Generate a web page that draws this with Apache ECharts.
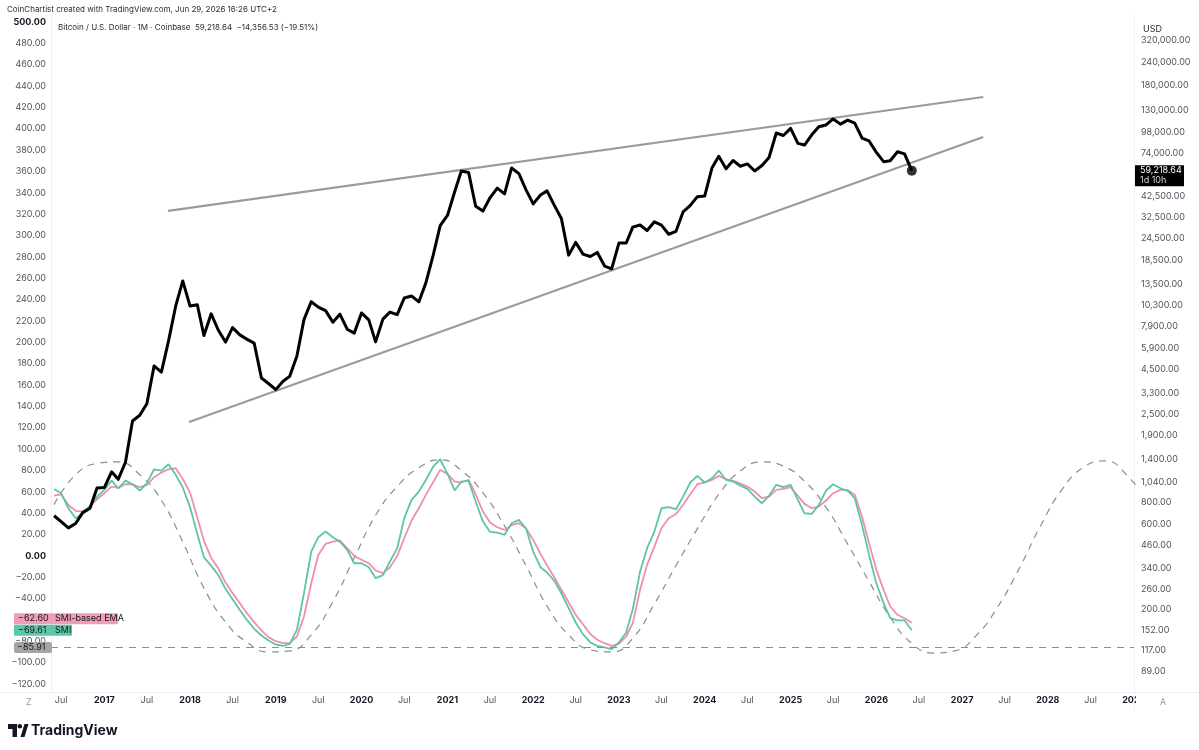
<!DOCTYPE html>
<html>
<head>
<meta charset="utf-8">
<script src="https://cdn.jsdelivr.net/npm/echarts@6/dist/echarts.min.js"></script>
<style>
  html, body { margin: 0; padding: 0; background: #fff; }
  #chart { width: 1199px; height: 750px; }
</style>
</head>
<body>
<div id="chart"></div>
<script>
// monthly closes, Jun 2016 .. Jun 2026 (BTC / USD, Coinbase)
var btcClose = [
  673, 624, 575, 609, 701, 742, 964,
  970, 1190, 1080, 1348, 2300, 2480, 2875, 4703, 4338, 6468, 10233, 14156,
  10221, 10397, 6973, 9240, 7494, 6404, 7730, 7033, 6635, 6317, 4017, 3742,
  3457, 3854, 4105, 5350, 8574, 10817, 10085, 9630, 8293, 9199, 7569, 7194,
  9350, 8544, 6424, 8629, 9454, 9138, 11351, 11655, 10785, 13805, 19713, 28990,
  33114, 45137, 58918, 57750, 37332, 35041, 41626, 47166, 43790, 61318, 57005, 46306,
  38483, 43194, 45538, 37714, 31792, 19785, 23336, 20050, 19432, 20495, 17168, 16548,
  23139, 23147, 28478, 29268, 27219, 30477, 29230, 25940, 26967, 34667, 37712, 42265,
  42582, 61198, 71333, 60636, 67491, 62678, 64620, 58970, 63329, 70216, 96449, 93429,
  102405, 84374, 82548, 94207, 104638, 107135, 115758, 108236, 114056, 109556, 90400, 87000,
  75000, 66500, 67300, 75700, 73575.17, 59218.64
];

// SMI and its EMA, same months
var smi = [
  62.7, 58.7, 44.6, 35.3, 40.0, 46.8, 55.5,
  61.8, 70.5, 63.3, 70.5, 67.1, 61.2, 68.0, 81.1, 79.9, 85.8, 76.0, 64.0,
  45.6, 20.6, -1.2, -9.4, -17.8, -30.9, -40.6, -50.6, -60.2, -68.3, -74.6, -79.3,
  -83.0, -84.3, -82.7, -69.3, -35.0, 4.0, 17.5, 22.8, 17.5, 13.4, 5.6, -6.9,
  -6.9, -10.6, -20.9, -18.1, -5.3, 7.2, 35.3, 52.4, 60.2, 71.1, 83.6, 90.5,
  76.8, 61.2, 69.6, 70.5, 50.9, 32.1, 22.5, 21.8, 19.7, 30.6, 33.7, 25.9,
  4.0, -10.6, -15.6, -23.4, -35.0, -49.0, -62.4, -73.3, -81.1, -84.3, -85.8, -87.4,
  -81.1, -71.8, -50.0, -14.7, 7.2, 22.8, 44.6, 45.6, 43.7, 55.5, 68.7, 74.9,
  68.7, 72.7, 79.9, 71.1, 69.6, 65.8, 62.7, 55.5, 49.3, 56.2, 66.5, 64.3,
  66.5, 52.4, 39.9, 39.3, 47.7, 61.2, 67.1, 63.3, 60.8, 54.0, 29.0, 0.9,
  -25.6, -44.3, -58.4, -60.5, -60.5, -69.61
];
var smiEma = [
  56.5, 57.7, 47.7, 42.1, 41.5, 46.2, 53.0,
  58.7, 64.9, 63.7, 67.1, 67.1, 64.3, 66.5, 73.6, 78.0, 81.1, 82.1, 72.0,
  59.3, 35.9, 14.0, -1.9, -11.5, -25.0, -34.9, -44.3, -54.0, -62.1, -69.9, -76.1,
  -79.9, -81.8, -81.8, -75.5, -56.8, -25.6, 0.9, 11.2, 13.4, 14.4, 7.2, 0.0,
  -3.7, -6.9, -13.7, -16.2, -10.9, 0.0, 16.5, 33.1, 44.6, 57.1, 69.0, 80.5,
  76.8, 69.6, 68.7, 71.1, 57.7, 41.5, 31.2, 26.8, 24.3, 28.7, 30.6, 25.9,
  15.0, 1.9, -9.0, -20.0, -31.8, -43.4, -55.2, -64.0, -73.3, -78.6, -81.8, -84.3,
  -82.4, -75.5, -63.0, -31.8, -8.4, 8.7, 25.9, 35.3, 39.3, 47.7, 58.0, 67.1,
  68.7, 71.1, 74.9, 71.8, 70.2, 67.7, 64.9, 60.2, 54.0, 55.5, 61.8, 62.7,
  64.3, 56.2, 48.7, 44.6, 46.2, 51.8, 58.7, 61.8, 61.8, 57.1, 36.8, 11.9,
  -13.1, -31.8, -47.4, -55.2, -58.4, -62.60
];

// dashed cycle curve, read quarterly
var cycleDates = [
  '2016-06', '2016-09', '2016-12', '2017-03', '2017-06', '2017-09', '2017-12',
  '2018-03', '2018-06', '2018-09', '2018-12', '2019-03', '2019-06', '2019-09', '2019-12',
  '2020-03', '2020-06', '2020-09', '2020-12', '2021-03', '2021-06', '2021-09', '2021-12',
  '2022-03', '2022-06', '2022-09', '2022-12', '2023-03', '2023-06', '2023-09', '2023-12',
  '2024-03', '2024-06', '2024-09', '2024-12', '2025-03', '2025-06', '2025-09', '2025-12',
  '2026-03', '2026-06', '2026-09', '2026-12', '2027-03', '2027-06', '2027-09', '2027-12',
  '2028-03', '2028-06', '2028-09', '2028-12', '2029-03'
];
var cycleValues = [
  48, 76, 86.5, 88, 76, 52, 13,
  -30, -62, -81, -90, -89, -74, -43, -2,
  38, 65, 82.5, 90, 80, 59, 28, -9,
  -47, -74, -88, -90, -77, -45, -9, 25.5,
  57.5, 79.5, 88, 84, 70, 45.5, 11, -24,
  -57.5, -82, -91, -89, -75, -48, -12, 28,
  62, 83, 89, 76, 50
];

// trend lines (date, price)
var upperTrend = [['2017-09-29', 35100], ['2027-04-01', 153900]];
var lowerTrend = [['2017-12-28', 2270], ['2027-04-01', 91600]];
var smiFloor = -85.91;

var priceTicks = [320000, 240000, 180000, 130000, 98000, 74000, 42500, 32500, 24500,
  18500, 13500, 10300, 7900, 5900, 4500, 3300, 2500, 1900, 1400, 1040, 800, 600,
  460, 340, 260, 200, 152, 117, 89];
var timeTicks = ['2016-07', '2017-01', '2017-07', '2018-01', '2018-07', '2019-01', '2019-07',
  '2020-01', '2020-07', '2021-01', '2021-07', '2022-01', '2022-07', '2023-01', '2023-07',
  '2024-01', '2024-07', '2025-01', '2025-07', '2026-01', '2026-07', '2027-01', '2027-07',
  '2028-01', '2028-07', '2029-01'];

var FONT = 'Inter';
var TXT = '#2a2e39';

function toTime(s) {
  var p = s.split('-');
  return Date.UTC(+p[0], +p[1] - 1, p[2] ? +p[2] : 1);
}
function fmt2(v) {
  return v.toLocaleString('en-US', { minimumFractionDigits: 2, maximumFractionDigits: 2 });
}
function signed(v) {
  return (v < 0 ? '\u2212' : '') + fmt2(Math.abs(v));
}

var months = btcClose.map(function (v, i) { return Date.UTC(2016, 5 + i, 1); });
var priceData = btcClose.map(function (v, i) { return [months[i], v]; });
var smiData = smi.map(function (v, i) { return [months[i], v]; });
var emaData = smiEma.map(function (v, i) { return [months[i], v]; });
var cycleData = cycleValues.map(function (v, i) { return [toTime(cycleDates[i]), v]; });
var lastIdx = btcClose.length - 1;

var chart = echarts.init(document.getElementById('chart'));

var option = {
  animation: false,
  backgroundColor: '#ffffff',
  textStyle: { fontFamily: FONT },
  grid: { left: 51, right: 65, top: 22, bottom: 66 },
  xAxis: {
    // timestamps on a plain value scale so the Jan/Jul ticks can be set directly
    type: 'value',
    min: toTime('2016-05-19'),
    max: toTime('2029-01-02'),
    axisLine: { show: false },
    axisTick: { show: false },
    splitLine: { show: false },
    axisLabel: {
      customValues: timeTicks.map(toTime),
      margin: 12,
      fontFamily: FONT,
      fontSize: 9,
      color: '#50535e',
      formatter: function (value) {
        var d = new Date(value);
        if (d.getUTCMonth() === 0) return '{y|' + d.getUTCFullYear() + '}';
        return 'Jul';
      },
      rich: { y: { fontFamily: FONT, fontSize: 9, fontWeight: 'bold', color: '#131722' } }
    }
  },
  yAxis: [
    {
      type: 'value',
      position: 'left',
      min: -120,
      max: 500,
      interval: 20,
      axisLine: { show: false },
      axisTick: { show: false },
      splitLine: { show: false },
      axisLabel: {
        margin: 5,
        fontFamily: FONT,
        fontSize: 9,
        color: '#50535e',
        formatter: function (v) {
          var s = signed(v);
          return (v === 500 || v === 0) ? '{b|' + s + '}' : s;
        },
        rich: { b: { fontFamily: FONT, fontSize: 9, fontWeight: 'bold', color: '#131722' } }
      }
    },
    {
      type: 'log',
      logBase: 10,
      position: 'right',
      min: 75.9,
      max: 407200,
      axisLine: { show: false },
      axisTick: { show: false },
      splitLine: { show: false },
      axisLabel: {
        customValues: priceTicks,
        margin: 7,
        fontFamily: FONT,
        fontSize: 9,
        color: '#50535e',
        formatter: function (v) { return fmt2(Math.round(v)); }
      }
    }
  ],
  series: [
    {
      name: 'cycle',
      type: 'line',
      yAxisIndex: 0,
      data: cycleData,
      smooth: true,
      symbol: 'none',
      lineStyle: { color: '#8a8c93', width: 1.2, type: [7, 6] },
      z: 1,
      markLine: {
        silent: true,
        symbol: 'none',
        label: { show: false },
        lineStyle: { color: '#8a8c93', width: 1, type: [7, 6] },
        data: [{ yAxis: smiFloor }]
      }
    },
    {
      name: 'SMI-based EMA',
      type: 'line',
      yAxisIndex: 0,
      data: emaData,
      symbol: 'none',
      lineStyle: { color: '#ee8fae', width: 1.8 },
      z: 2
    },
    {
      name: 'SMI',
      type: 'line',
      yAxisIndex: 0,
      data: smiData,
      symbol: 'none',
      lineStyle: { color: '#5cc6a3', width: 1.8 },
      z: 3
    },
    {
      name: 'upper',
      type: 'line',
      yAxisIndex: 1,
      data: upperTrend.map(function (p) { return [toTime(p[0]), p[1]]; }),
      symbol: 'none',
      lineStyle: { color: '#9b9b9b', width: 2.2 },
      z: 4
    },
    {
      name: 'lower',
      type: 'line',
      yAxisIndex: 1,
      data: lowerTrend.map(function (p) { return [toTime(p[0]), p[1]]; }),
      symbol: 'none',
      lineStyle: { color: '#9b9b9b', width: 2.2 },
      z: 4
    },
    {
      name: 'BTCUSD',
      type: 'line',
      yAxisIndex: 1,
      data: priceData,
      symbol: 'none',
      lineStyle: { color: '#000000', width: 3, join: 'round' },
      z: 5
    },
    {
      name: 'last',
      type: 'scatter',
      yAxisIndex: 1,
      data: [priceData[lastIdx]],
      symbolSize: 10,
      itemStyle: { color: '#000000' },
      z: 6
    }
  ],
  graphic: [
    { type: 'line', shape: { x1: 51.5, y1: 14, x2: 51.5, y2: 692 }, style: { stroke: '#eef0f3', lineWidth: 1 } },
    { type: 'line', shape: { x1: 1134.5, y1: 14, x2: 1134.5, y2: 712 }, style: { stroke: '#eef0f3', lineWidth: 1 } },
    { type: 'line', shape: { x1: 0, y1: 692.5, x2: 1199, y2: 692.5 }, style: { stroke: '#eef0f3', lineWidth: 1 } },
    { type: 'rect', shape: { x: 1136, y: 693, width: 63, height: 18 }, style: { fill: '#ffffff' }, z: 50 },
    { type: 'text', x: 7, y: 10, style: { text: 'CoinChartist created with TradingView.com, Jun 29, 2026 16:26 UTC+2', font: '8px ' + FONT, fill: TXT, verticalAlign: 'middle' }, z: 60 },
    { type: 'text', x: 58, y: 28, style: { text: 'Bitcoin / U.S. Dollar \u00b7 1M \u00b7 Coinbase  59,218.64  \u221214,356.53 (\u221219.51%)', font: '8px ' + FONT, fill: TXT, verticalAlign: 'middle' }, z: 60 },
    { type: 'text', x: 1143, y: 29, style: { text: 'USD', font: '9px ' + FONT, fill: TXT, verticalAlign: 'middle' }, z: 60 },
    { type: 'text', x: 26, y: 702, style: { text: 'Z', font: '9px ' + FONT, fill: '#9598a1', verticalAlign: 'middle' }, z: 60 },
    { type: 'text', x: 1160, y: 702, style: { text: 'A', font: '9px ' + FONT, fill: '#9598a1', verticalAlign: 'middle' }, z: 60 },
    // TradingView logo
    { type: 'rect', shape: { x: 8, y: 724, width: 9, height: 5 }, style: { fill: '#131722' }, z: 60 },
    { type: 'rect', shape: { x: 12.5, y: 724, width: 4.5, height: 13 }, style: { fill: '#131722' }, z: 60 },
    { type: 'circle', shape: { cx: 19.8, cy: 726.3, r: 2.3 }, style: { fill: '#131722' }, z: 60 },
    { type: 'polygon', shape: { points: [[20.5, 737], [24.5, 724], [28.5, 724], [24.5, 737]] }, style: { fill: '#131722' }, z: 60 },
    { type: 'text', x: 31, y: 731, style: { text: 'TradingView', font: 'bold 14px ' + FONT, fill: '#131722', verticalAlign: 'middle' }, z: 60 }
  ]
};

chart.setOption(option);

// value tags on both scales, placed where the axes put the values
function tagsOverlay() {
  var yTeal = chart.convertToPixel({ yAxisIndex: 0 }, smi[lastIdx]);
  var yPink = Math.min(chart.convertToPixel({ yAxisIndex: 0 }, smiEma[lastIdx]), yTeal - 11.5);
  var yGray = chart.convertToPixel({ yAxisIndex: 0 }, smiFloor);
  var pPx = chart.convertToPixel({ xAxisIndex: 0, yAxisIndex: 1 }, priceData[lastIdx]);
  var f = '9px ' + FONT;
  var items = [
    { type: 'rect', shape: { x: 14, y: yPink - 5.5, width: 104, height: 11, r: 1 }, style: { fill: '#f29cba' }, z: 70 },
    { type: 'text', x: 18, y: yPink, style: { text: signed(smiEma[lastIdx]), font: f, fill: '#131722', verticalAlign: 'middle' }, z: 71 },
    { type: 'text', x: 55, y: yPink, style: { text: 'SMI-based EMA', font: f, fill: '#131722', verticalAlign: 'middle' }, z: 71 },
    { type: 'rect', shape: { x: 14, y: yTeal - 5.5, width: 58, height: 11, r: 1 }, style: { fill: '#5ec8a6' }, z: 70 },
    { type: 'text', x: 18, y: yTeal, style: { text: signed(smi[lastIdx]), font: f, fill: '#131722', verticalAlign: 'middle' }, z: 71 },
    { type: 'text', x: 55, y: yTeal, style: { text: 'SMI', font: f, fill: '#131722', verticalAlign: 'middle' }, z: 71 },
    { type: 'rect', shape: { x: 14, y: yGray - 5.5, width: 38, height: 11, r: 2 }, style: { fill: '#a5a5a5' }, z: 70 },
    { type: 'text', x: 17, y: yGray, style: { text: signed(smiFloor), font: f, fill: '#131722', verticalAlign: 'middle' }, z: 71 },
    { type: 'rect', shape: { x: 1135, y: pPx[1] - 5.5, width: 49, height: 21 }, style: { fill: '#000000' }, z: 70 },
    { type: 'text', x: 1140, y: pPx[1], style: { text: fmt2(btcClose[lastIdx]), font: f, fill: '#ffffff', verticalAlign: 'middle' }, z: 71 },
    { type: 'text', x: 1140, y: pPx[1] + 10, style: { text: '1d 10h', font: f, fill: '#d1d4dc', verticalAlign: 'middle' }, z: 71 }
  ];
  chart.setOption({ graphic: option.graphic.concat(items) });
}
tagsOverlay();
</script>
</body>
</html>
